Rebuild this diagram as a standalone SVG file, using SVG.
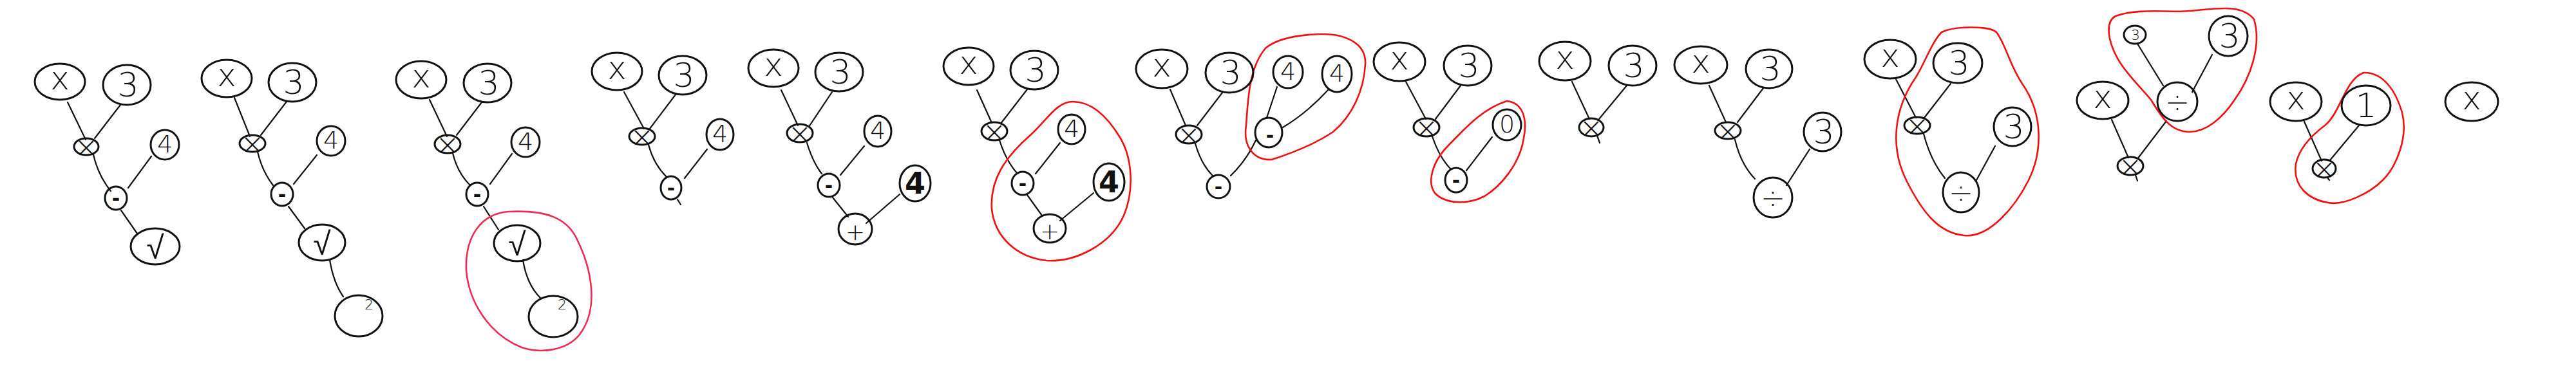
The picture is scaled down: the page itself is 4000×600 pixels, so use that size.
<svg xmlns="http://www.w3.org/2000/svg" width="4000" height="600" viewBox="0 0 4000 600">
<style>
.n{fill:none;stroke:#111;stroke-width:3}
.e{fill:none;stroke:#111;stroke-width:2.2;stroke-linecap:round}
.r{fill:none;stroke:#f01010;stroke-width:2.6}
.rp{fill:none;stroke:#ee2a50;stroke-width:2.6}
text{font-family:"DejaVu Sans","Liberation Sans",sans-serif;text-anchor:middle;dominant-baseline:central;fill:#111;font-weight:200}
.tx{font-size:50px}
.t3{font-size:52px}
.t4{font-size:38px}
.tm{font-size:44px}
.ts{font-size:30px;font-weight:bold}
.tq{font-size:50px}
.tp{font-size:36px}
.td{font-size:46px}
.tb{font-size:46px;font-weight:bold}
.tsm{font-size:22px}
</style>
<rect width="4000" height="600" fill="#fff"/>
<g id="connectors">
<path class="e" d="M105 159 L133 217"/><path class="e" d="M187 163 L147 215"/>
<path class="e" d="M145 240 Q152 272 172 297"/><path class="e" d="M235 243 L199 292"/>
<path class="e" d="M188 327 L213 363"/>
<path class="e" d="M364 152 L388 212"/><path class="e" d="M445 158 L405 210"/>
<path class="e" d="M400 236 Q407 266 424 288"/><path class="e" d="M492 241 L456 286"/>
<path class="e" d="M448 321 L473 355"/><path class="e" d="M512 404 Q518 440 533 461"/>
<path class="e" d="M667 155 L694 212"/><path class="e" d="M748 159 L709 210"/>
<path class="e" d="M703 238 Q710 268 730 288"/><path class="e" d="M795 239 L761 286"/>
<path class="e" d="M751 321 L774 357"/><path class="e" d="M812 404 Q818 442 839 463"/>
<path class="e" d="M969 143 L1000 200"/><path class="e" d="M1049 147 L1009 200"/>
<path class="e" d="M1007 225 Q1015 255 1035 275"/><path class="e" d="M1098 232 L1063 277"/>
<path class="e" d="M1052 310 L1057 318"/>
<path class="e" d="M1213 140 L1239 195"/><path class="e" d="M1292 143 L1256 197"/>
<path class="e" d="M1253 222 Q1262 252 1276 270"/><path class="e" d="M1342 227 L1305 272"/>
<path class="e" d="M1293 307 L1317 337"/><path class="e" d="M1397 302 L1345 347"/>
<path class="e" d="M1517 140 L1540 191"/><path class="e" d="M1595 139 L1554 192"/>
<path class="e" d="M1552 218 Q1562 250 1580 270"/><path class="e" d="M1646 222 L1608 270"/>
<path class="e" d="M1595 303 L1618 335"/><path class="e" d="M1698 300 L1646 343"/>
<path class="e" d="M1817 139 L1841 195"/><path class="e" d="M1898 144 L1859 195"/>
<path class="e" d="M1856 223 Q1865 255 1883 273"/><path class="e" d="M1950 218 Q1935 250 1911 273"/>
<path class="e" d="M1983 135 L1967 183"/><path class="e" d="M2062 140 Q2030 175 1992 198"/>
<path class="e" d="M2183 127 L2214 185"/><path class="e" d="M2268 133 L2229 185"/>
<path class="e" d="M2224 212 Q2235 245 2253 263"/><path class="e" d="M2317 213 L2277 265"/>
<path class="e" d="M2441 127 L2468 185"/><path class="e" d="M2526 133 L2483 185"/>
<path class="e" d="M2480 211 L2484 222"/>
<path class="e" d="M2654 133 L2680 190"/><path class="e" d="M2738 137 L2698 190"/>
<path class="e" d="M2694 217 Q2703 255 2725 278"/><path class="e" d="M2810 232 L2774 288"/>
<path class="e" d="M2944 123 L2975 183"/><path class="e" d="M3029 130 L2988 183"/>
<path class="e" d="M2987 208 Q2998 250 3020 277"/><path class="e" d="M3098 227 L3069 280"/>
<path class="e" d="M3319 68 L3359 133"/><path class="e" d="M3435 85 L3404 143"/>
<path class="e" d="M3364 188 L3319 247"/><path class="e" d="M3279 186 L3305 245"/>
<path class="e" d="M3316 272 L3319 281"/>
<path class="e" d="M3578 189 L3605 250"/><path class="e" d="M3663 195 L3618 249"/>
<path class="e" d="M3614 276 L3617 280"/>
</g>
<g id="highlights">
<path class="rp" d="M790 329 C850 326 880 340 895 370 C920 420 930 480 900 520 C880 545 840 550 810 540 C760 520 728 470 724 420 C722 370 745 332 790 329 Z"/>
<path class="r" d="M1666 158 C1700 158 1725 190 1740 215 C1760 250 1760 300 1745 335 C1725 380 1670 408 1625 405 C1580 400 1545 370 1540 325 C1537 280 1560 245 1600 210 C1625 188 1640 158 1666 158 Z"/>
<path class="r" d="M2050 53 C2090 52 2122 68 2120 100 C2118 140 2100 180 2070 205 C2040 225 2000 240 1975 248 C1945 250 1930 225 1935 195 C1938 150 1940 105 1965 75 C1985 58 2020 54 2050 53 Z"/>
<path class="r" d="M2340 157 C2365 160 2372 185 2366 215 C2360 255 2330 290 2305 305 C2280 318 2245 318 2228 300 C2215 282 2225 250 2250 225 C2275 200 2300 170 2340 157 Z"/>
<path class="r" d="M3015 50 C3035 40 3090 40 3100 50 C3115 70 3120 100 3140 130 C3175 180 3170 240 3150 280 C3130 320 3090 370 3050 366 C3010 362 2985 330 2960 280 C2935 230 2940 170 2975 120 C2990 95 3000 65 3015 50 Z"/>
<path class="r" d="M3285 25 C3320 12 3370 20 3400 17 C3440 14 3480 5 3500 30 C3512 70 3495 120 3470 155 C3450 185 3425 205 3400 205 C3370 205 3355 180 3340 155 C3315 125 3285 100 3276 60 C3272 40 3276 30 3285 25 Z"/>
<path class="r" d="M3670 113 C3700 112 3720 140 3730 175 C3740 215 3720 260 3700 280 C3680 300 3640 320 3615 315 C3585 310 3560 290 3565 255 C3570 230 3590 210 3610 195 C3635 175 3640 125 3670 113 Z"/>
</g>
<g id="t1-x"><ellipse class="n" cx="93" cy="127" rx="39" ry="28"/><text class="tx" x="93" y="122">x</text></g>
<g id="t1-3"><ellipse class="n" cx="197" cy="132" rx="37" ry="31"/><text class="t3" x="199" y="132">3</text></g>
<g id="t1-mul"><ellipse class="n" cx="134" cy="228" rx="19" ry="13"/><text class="tm" x="134" y="228">×</text></g>
<g id="t1-4"><ellipse class="n" cx="256" cy="225" rx="22" ry="23"/><text class="t4" x="256" y="224">4</text></g>
<g id="t1-minus"><ellipse class="n" cx="180" cy="308" rx="17" ry="18"/><text class="ts" x="180" y="308">-</text></g>
<g id="t1-sqrt"><ellipse class="n" cx="241" cy="383" rx="38" ry="28"/><text class="tq" x="241" y="385">√</text></g>
<g id="t2-x"><ellipse class="n" cx="352" cy="122" rx="39" ry="29"/><text class="tx" x="352" y="117">x</text></g>
<g id="t2-3"><ellipse class="n" cx="454" cy="128" rx="37" ry="30"/><text class="t3" x="456" y="128">3</text></g>
<g id="t2-mul"><ellipse class="n" cx="392" cy="223" rx="20" ry="13"/><text class="tm" x="392" y="223">×</text></g>
<g id="t2-4"><ellipse class="n" cx="514" cy="219" rx="22" ry="23"/><text class="t4" x="514" y="218">4</text></g>
<g id="t2-minus"><ellipse class="n" cx="438" cy="302" rx="17" ry="18"/><text class="ts" x="438" y="302">-</text></g>
<g id="t2-sqrt"><ellipse class="n" cx="500" cy="377" rx="36" ry="28"/><text class="tq" x="500" y="379">√</text></g>
<g id="t2-sq"><ellipse class="n" cx="557" cy="491" rx="37" ry="32"/><text class="tsm" x="573" y="473">2</text></g>
<g id="t3-x"><ellipse class="n" cx="654" cy="124" rx="39" ry="29"/><text class="tx" x="654" y="119">x</text></g>
<g id="t3-3"><ellipse class="n" cx="757" cy="129" rx="37" ry="30"/><text class="t3" x="759" y="129">3</text></g>
<g id="t3-mul"><ellipse class="n" cx="695" cy="224" rx="20" ry="14"/><text class="tm" x="695" y="224">×</text></g>
<g id="t3-4"><ellipse class="n" cx="816" cy="221" rx="22" ry="23"/><text class="t4" x="816" y="220">4</text></g>
<g id="t3-minus"><ellipse class="n" cx="741" cy="302" rx="17" ry="18"/><text class="ts" x="741" y="302">-</text></g>
<g id="t3-sqrt"><ellipse class="n" cx="803" cy="378" rx="36" ry="28"/><text class="tq" x="803" y="380">√</text></g>
<g id="t3-sq"><ellipse class="n" cx="859" cy="492" rx="38" ry="32"/><text class="tsm" x="873" y="473">2</text></g>
<g id="t4-x"><ellipse class="n" cx="958" cy="111" rx="39" ry="29"/><text class="tx" x="958" y="106">x</text></g>
<g id="t4-3"><ellipse class="n" cx="1060" cy="117" rx="37" ry="30"/><text class="t3" x="1062" y="117">3</text></g>
<g id="t4-mul"><ellipse class="n" cx="997" cy="212" rx="20" ry="13"/><text class="tm" x="997" y="212">×</text></g>
<g id="t4-4"><ellipse class="n" cx="1118" cy="209" rx="21" ry="24"/><text class="t4" x="1118" y="208">4</text></g>
<g id="t4-minus"><ellipse class="n" cx="1042" cy="292" rx="16" ry="18"/><text class="ts" x="1042" y="292">-</text></g>
<g id="t5-x"><ellipse class="n" cx="1201" cy="106" rx="39" ry="29"/><text class="tx" x="1201" y="101">x</text></g>
<g id="t5-3"><ellipse class="n" cx="1303" cy="112" rx="37" ry="30"/><text class="t3" x="1305" y="112">3</text></g>
<g id="t5-mul"><ellipse class="n" cx="1242" cy="207" rx="20" ry="14"/><text class="tm" x="1242" y="207">×</text></g>
<g id="t5-4a"><ellipse class="n" cx="1363" cy="204" rx="21" ry="24"/><text class="t4" x="1363" y="203">4</text></g>
<g id="t5-minus"><ellipse class="n" cx="1287" cy="288" rx="17" ry="18"/><text class="ts" x="1287" y="288">-</text></g>
<g id="t5-4b"><ellipse class="n" cx="1421" cy="285" rx="24" ry="28"/><text class="tb" x="1421" y="285">4</text></g>
<g id="t5-plus"><ellipse class="n" cx="1328" cy="356" rx="26" ry="24"/><text class="tp" x="1328" y="360">+</text></g>
<g id="t6-x"><ellipse class="n" cx="1504" cy="103" rx="39" ry="29"/><text class="tx" x="1504" y="98">x</text></g>
<g id="t6-3"><ellipse class="n" cx="1606" cy="109" rx="37" ry="30"/><text class="t3" x="1608" y="109">3</text></g>
<g id="t6-mul"><ellipse class="n" cx="1544" cy="204" rx="20" ry="14"/><text class="tm" x="1544" y="204">×</text></g>
<g id="t6-4a"><ellipse class="n" cx="1664" cy="201" rx="21" ry="23"/><text class="t4" x="1664" y="200">4</text></g>
<g id="t6-minus"><ellipse class="n" cx="1588" cy="285" rx="17" ry="18"/><text class="ts" x="1588" y="285">-</text></g>
<g id="t6-4b"><ellipse class="n" cx="1722" cy="283" rx="24" ry="29"/><text class="tb" x="1722" y="283">4</text></g>
<g id="t6-plus"><ellipse class="n" cx="1630" cy="355" rx="25" ry="22"/><text class="tp" x="1630" y="359">+</text></g>
<g id="t7-x"><ellipse class="n" cx="1804" cy="107" rx="40" ry="30"/><text class="tx" x="1804" y="102">x</text></g>
<g id="t7-3"><ellipse class="n" cx="1909" cy="113" rx="37" ry="31"/><text class="t3" x="1911" y="113">3</text></g>
<g id="t7-mul"><ellipse class="n" cx="1846" cy="209" rx="20" ry="14"/><text class="tm" x="1846" y="209">×</text></g>
<g id="t7-minus"><ellipse class="n" cx="1892" cy="290" rx="18" ry="18"/><text class="ts" x="1892" y="290">-</text></g>
<g id="t7-4a"><ellipse class="n" cx="2000" cy="112" rx="23" ry="25"/><text class="t4" x="2000" y="111">4</text></g>
<g id="t7-4b"><ellipse class="n" cx="2076" cy="115" rx="23" ry="28"/><text class="t4" x="2076" y="114">4</text></g>
<g id="t7-minus2"><ellipse class="n" cx="1970" cy="206" rx="21" ry="23"/><text class="ts" x="1972" y="210">-</text></g>
<g id="t8-x"><ellipse class="n" cx="2173" cy="96" rx="40" ry="30"/><text class="tx" x="2173" y="91">x</text></g>
<g id="t8-3"><ellipse class="n" cx="2279" cy="102" rx="37" ry="31"/><text class="t3" x="2281" y="102">3</text></g>
<g id="t8-mul"><ellipse class="n" cx="2215" cy="198" rx="20" ry="14"/><text class="tm" x="2215" y="198">×</text></g>
<g id="t8-0"><ellipse class="n" cx="2340" cy="194" rx="22" ry="24"/><text class="t4" x="2340" y="193">0</text></g>
<g id="t8-minus"><ellipse class="n" cx="2261" cy="280" rx="17" ry="19"/><text class="ts" x="2261" y="280">-</text></g>
<g id="t9-x"><ellipse class="n" cx="2430" cy="95" rx="40" ry="30"/><text class="tx" x="2430" y="90">x</text></g>
<g id="t9-3"><ellipse class="n" cx="2535" cy="102" rx="37" ry="31"/><text class="t3" x="2537" y="102">3</text></g>
<g id="t9-mul"><ellipse class="n" cx="2471" cy="198" rx="19" ry="14"/><text class="tm" x="2471" y="198">×</text></g>
<g id="t10-x"><ellipse class="n" cx="2641" cy="101" rx="41" ry="29"/><text class="tx" x="2641" y="96">x</text></g>
<g id="t10-3"><ellipse class="n" cx="2747" cy="107" rx="36" ry="30"/><text class="t3" x="2749" y="107">3</text></g>
<g id="t10-mul"><ellipse class="n" cx="2683" cy="203" rx="20" ry="13"/><text class="tm" x="2683" y="203">×</text></g>
<g id="t10-3b"><ellipse class="n" cx="2830" cy="205" rx="29" ry="30"/><text class="t3" x="2832" y="205">3</text></g>
<g id="t10-div"><ellipse class="n" cx="2753" cy="307" rx="30" ry="31"/><text class="td" x="2753" y="307">÷</text></g>
<g id="t11-x"><ellipse class="n" cx="2935" cy="92" rx="40" ry="30"/><text class="tx" x="2935" y="87">x</text></g>
<g id="t11-3"><ellipse class="n" cx="3040" cy="98" rx="38" ry="31"/><text class="t3" x="3042" y="98">3</text></g>
<g id="t11-mul"><ellipse class="n" cx="2977" cy="195" rx="20" ry="13"/><text class="tm" x="2977" y="195">×</text></g>
<g id="t11-3b"><ellipse class="n" cx="3125" cy="197" rx="29" ry="30"/><text class="t3" x="3127" y="197">3</text></g>
<g id="t11-div"><ellipse class="n" cx="3045" cy="299" rx="28" ry="31"/><text class="td" x="3045" y="299">÷</text></g>
<g id="t12-3s"><ellipse class="n" cx="3315" cy="54" rx="17" ry="14"/><text class="tsm" x="3316" y="54">3</text></g>
<g id="t12-3"><ellipse class="n" cx="3460" cy="56" rx="30" ry="31"/><text class="t3" x="3462" y="56">3</text></g>
<g id="t12-div"><ellipse class="n" cx="3381" cy="158" rx="31" ry="30"/><text class="td" x="3381" y="158">÷</text></g>
<g id="t12-x"><ellipse class="n" cx="3265" cy="156" rx="40" ry="29"/><text class="tx" x="3265" y="151">x</text></g>
<g id="t12-mul"><ellipse class="n" cx="3308" cy="258" rx="20" ry="14"/><text class="tm" x="3308" y="258">×</text></g>
<g id="t13-x"><ellipse class="n" cx="3565" cy="158" rx="40" ry="30"/><text class="tx" x="3565" y="153">x</text></g>
<g id="t13-1"><ellipse class="n" cx="3674" cy="164" rx="38" ry="31"/><text class="t3" x="3674" y="164">1</text></g>
<g id="t13-mul"><ellipse class="n" cx="3609" cy="262" rx="18" ry="14"/><text class="tm" x="3609" y="262">×</text></g>
<g id="t14-x"><ellipse class="n" cx="3838" cy="158" rx="41" ry="30"/><text class="tx" x="3838" y="153">x</text></g>
</svg>
